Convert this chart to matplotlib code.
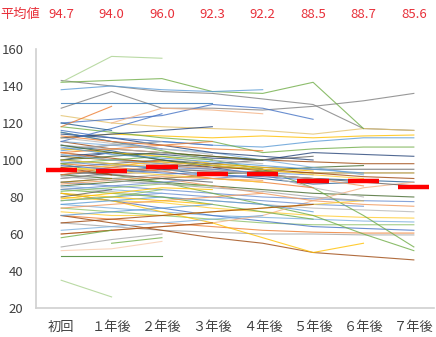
import numpy as np
import matplotlib.pyplot as plt

plt.rcParams['font.family'] = ['Noto Sans CJK JP', 'DejaVu Sans']

nan = np.nan

# 時点
labels = ["初回", "１年後", "２年後", "３年後", "４年後", "５年後", "６年後", "７年後"]

# 平均値
means = [94.7, 94.0, 96.0, 92.3, 92.2, 88.5, 88.7, 85.6]

# 個別の推移 (7年後まで)
long_runs = [
    [128, 137, 128, 128, 127, 129, 132, 136],
    [143, 140, 137, 136, 133, 130, 117, 116],
    [124, 120, 118, 117, 116, 114, 117, 116],
    [112, 114, 113, 112, 113, 112, 113, 113.5],
    [105, 108, 110, 108, 107, 110, 112, 112],
    [118, 115, 112, 110, 104, 106, 107, 107],
    [100, 104, 103, 101, 100, 104, 103, 102],
    [110, 106, 104, 102, 100, 99, 98, 98],
    [96, 98, 100, 98, 96, 95, 95, 95],
    [102, 100, 99, 97, 94, 93, 93, 93],
    [108, 105, 100, 96, 92, 90, 89, 88],
    [92, 90, 88, 86, 84, 82, 81, 80],
    [88, 86, 84, 82, 80, 79, 78, 77.5],
    [95, 92, 90, 86, 82, 78, 76, 75],
    [85, 83, 80, 78, 76, 74, 73, 72],
    [80, 78, 77, 74, 72, 70, 69, 68.6],
    [76, 74, 72, 70, 69, 68, 67, 66.5],
    [74, 72, 70, 68, 66, 65, 65, 65],
    [82, 78, 74, 70, 67, 64, 63, 62],
    [70, 68, 66, 64, 62, 61, 60.5, 60.5],
    [66, 64, 62, 61, 60, 60, 59.5, 59.5],
    [98, 92, 88, 82, 76, 70, 60, 51],
    [70, 66, 62, 58, 55, 50, 48, 46],
    [115, 110, 105, 100, 95, 85, 70, 53],
    [60, 62, 64, 66, 70, 78, 85, 88],
    [104, 101, 98, 96, 95, 93, 91, 90],
    [90, 93, 95, 94, 92, 90, 88, 86],
]

# 途中で終わる推移
short_runs = [
    [82, 78, 72, 66, 58, 50, 55, nan],
    [100, 98, 95, 92, 90, 87, 88, nan],
    [86, 88, 90, 92, 94, 96, 97, nan],
    [78, 80, 82, 80, 78, 76, 75, nan],
    [104, 100, 97, 95, 92, 90, 86, nan],
    [94, 96, 98, 95, 92, 85, 80, nan],
    [72, 70, 70, 72, 74, 76, 78, nan],
    [110, 108, 106, 104, 100, 96, 92, nan],
    [142, 143, 144, 137, 136, 142, 117, nan],
    [120, 122, 124, 130, 128, 122, nan, nan],
    [98, 96, 94, 90, 88, 85, nan, nan],
    [88, 90, 92, 94, 92, 90, nan, nan],
    [106, 104, 102, 98, 96, 94, nan, nan],
    [76, 78, 80, 78, 76, 72, nan, nan],
    [84, 82, 80, 76, 72, 68, nan, nan],
    [114, 112, 108, 104, 102, 100, nan, nan],
    [66, 68, 70, 72, 74, 76, nan, nan],
    [92, 94, 96, 98, 100, 102, nan, nan],
    [138, 140, 138, 137, 138, nan, nan, nan],
    [nan, 120, 128, 127, 125, nan, nan, nan],
    [100, 102, 104, 102, 100, nan, nan, nan],
    [84, 86, 88, 90, 92, nan, nan, nan],
    [74, 76, 78, 80, 82, nan, nan, nan],
    [108, 106, 104, 100, 98, nan, nan, nan],
    [96, 94, 92, 90, 88, nan, nan, nan],
    [62, 64, 66, 68, 70, nan, nan, nan],
    [131, 131, 131, 131, nan, nan, nan, nan],
    [116, 112, 110, 108, nan, nan, nan, nan],
    [104, 106, 108, 110, nan, nan, nan, nan],
    [90, 92, 94, 96, nan, nan, nan, nan],
    [82, 80, 78, 76, nan, nan, nan, nan],
    [70, 72, 74, 76, nan, nan, nan, nan],
    [98, 100, 102, 100, nan, nan, nan, nan],
    [112, 114, 116, 118, nan, nan, nan, nan],
    [60, 62, 64, 66, nan, nan, nan, nan],
    [94, 92, 90, 88, nan, nan, nan, nan],
    [142, 156, 155, nan, nan, nan, nan, nan],
    [48, 48, 48, nan, nan, nan, nan, nan],
    [53, 57, 60, nan, nan, nan, nan, nan],
    [51, 52, 56, nan, nan, nan, nan, nan],
    [nan, 55, 58, nan, nan, nan, nan, nan],
    [110, 117, 125, nan, nan, nan, nan, nan],
    [100, 98, 96, nan, nan, nan, nan, nan],
    [86, 84, 82, nan, nan, nan, nan, nan],
    [78, 80, 84, nan, nan, nan, nan, nan],
    [115, 110, 106, nan, nan, nan, nan, nan],
    [92, 96, 100, nan, nan, nan, nan, nan],
    [106, 108, 110, nan, nan, nan, nan, nan],
    [35, 26, nan, nan, nan, nan, nan, nan],
    [118, 129, nan, nan, nan, nan, nan, nan],
    [58, 62, nan, nan, nan, nan, nan, nan],
    [102, 104, nan, nan, nan, nan, nan, nan],
    [96, 92, nan, nan, nan, nan, nan, nan],
    [80, 84, nan, nan, nan, nan, nan, nan],
    [88, 90, nan, nan, nan, nan, nan, nan],
    [120, 116, nan, nan, nan, nan, nan, nan],
    [108, 104, 100, 97, 95, nan, nan, nan],
    [99, 97, 96, 95, 93, 92, nan, nan],
    [87, 89, 91, 90, 89, nan, nan, nan],
    [112, 109, 106, 103, nan, nan, nan, nan],
    [94, 97, 99, 97, 95, 92, 90, nan],
    [103, 100, 98, nan, nan, nan, nan, nan],
    [83, 85, 87, 86, nan, nan, nan, nan],
    [97, 95, 93, 92, 91, 89, nan, nan],
    [113, 110, 108, 106, 105, nan, nan, nan],
    [91, 89, 87, 85, 83, 80, 78, nan],
    [79, 82, 85, 84, nan, nan, nan, nan],
    [107, 103, 101, 99, 97, 95, 93, nan],
]

# Excel風の色
palette = ['#4472C4', '#ED7D31', '#A5A5A5', '#FFC000', '#5B9BD5', '#70AD47',
           '#264478', '#9E480E', '#636363', '#997300', '#255E91', '#43682B',
           '#698ED0', '#F1975A', '#B7B7B7', '#FFCD33', '#7CAFDD', '#8CC168']

# 目立つ線の色
n_long = len(long_runs)
special = {0: '#7F7F7F', 1: '#808080', 2: '#E2C16B', 21: '#70AD47',
           22: '#9E480E', 24: '#F4B183',
           n_long + 0: '#FFC000', n_long + 8: '#70AD47', n_long + 9: '#4472C4',
           n_long + 18: '#5B9BD5', n_long + 19: '#F4B183', n_long + 26: '#2E75B6',
           n_long + 36: '#A9D18E', n_long + 37: '#3A7D22', n_long + 38: '#A5A5A5',
           n_long + 39: '#F8CBAD', n_long + 40: '#70AD47', n_long + 41: '#4472C4',
           n_long + 48: '#A9D18E', n_long + 49: '#ED7D31'}

fig = plt.figure(figsize=(4.36, 3.37), dpi=100)
ax = fig.add_axes([36/436, 29/337, 398/436, 259/337])

x = np.arange(len(labels))
runs = long_runs + short_runs
for i, r in enumerate(runs):
    c = special.get(i, palette[i % len(palette)])
    ax.plot(x, r, color=c, lw=0.8, alpha=0.8)

# 平均値の赤い線
for i, m in enumerate(means):
    ax.hlines(m, i - 0.31, i + 0.31, color='#FF0000', lw=3.2, zorder=5)

ax.set_xlim(-0.5, 7.4)
ax.set_ylim(20, 160)
ax.set_yticks(range(20, 161, 20))
ax.set_xticks(x)
ax.set_xticklabels(labels)
ax.tick_params(length=0, labelsize=9.5, labelcolor='#404040')
ax.tick_params(axis='y', pad=9)
ax.tick_params(axis='x', pad=9)
for s in ['top', 'right']:
    ax.spines[s].set_visible(False)
for s in ['left', 'bottom']:
    ax.spines[s].set_color('#D0D0D0')
    ax.spines[s].set_linewidth(1.2)

# 上部の平均値テキスト
fig.text(0.0, 1 - 14/337, "平均値", color='#E8303A', fontsize=9.5, va='center', ha='left')
trans = ax.get_xaxis_transform()
for i, m in enumerate(means):
    ax.text(i, 1 + 35/259, f"{m:.1f}", color='#E8303A', fontsize=9.5,
            ha='center', va='center', transform=trans, clip_on=False)

fig.savefig('out.png', dpi=100)
